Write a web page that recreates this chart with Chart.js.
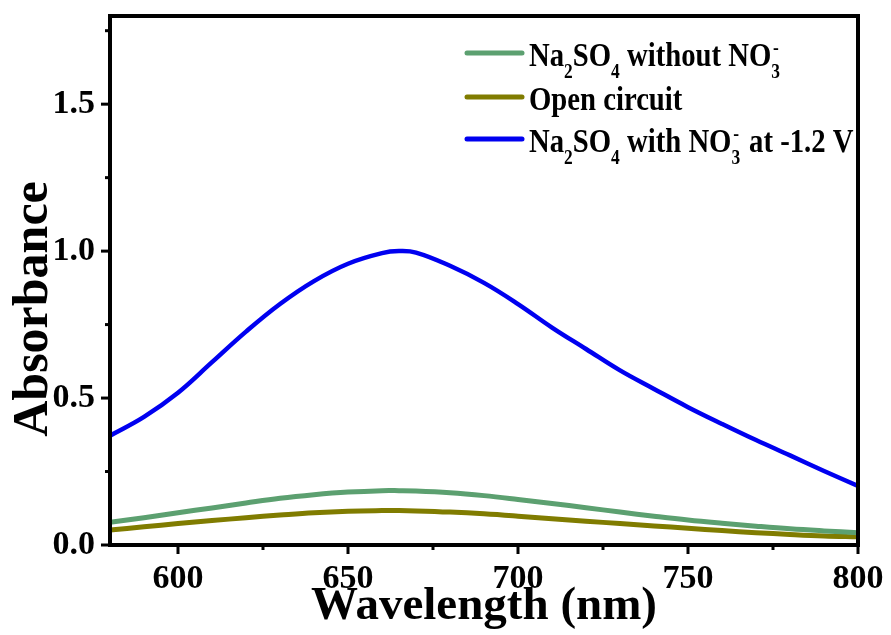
<!DOCTYPE html>
<html>
<head>
<meta charset="utf-8">
<script src="https://cdn.jsdelivr.net/npm/chart.js@4.4.1/dist/chart.umd.min.js"></script>
<style>
  html, body { margin: 0; padding: 0; background: #fff; }
  #wrap { width: 891px; height: 635px; }
</style>
</head>
<body>
<div id="wrap"><canvas id="myChart" width="891" height="635"></canvas></div>
<script>
// wavelength (nm)
const wavelengths = [580, 590, 600, 610, 620, 630, 640, 650, 660, 665, 670, 680, 690, 700, 710, 720, 730, 740, 750, 760, 770, 780, 790, 800];
// Na2SO4 without NO3-
const noNitrate = [0.077, 0.093, 0.110, 0.126, 0.143, 0.159, 0.171, 0.180, 0.185, 0.185, 0.184, 0.178, 0.168, 0.155, 0.141, 0.127, 0.112, 0.098, 0.085, 0.074, 0.064, 0.055, 0.048, 0.042];
// open circuit
const openCircuit = [0.051, 0.062, 0.073, 0.083, 0.093, 0.102, 0.110, 0.115, 0.117, 0.117, 0.116, 0.112, 0.106, 0.098, 0.089, 0.081, 0.073, 0.065, 0.057, 0.049, 0.042, 0.036, 0.031, 0.028];
// Na2SO4 with NO3- at -1.2 V
const withNitrate = [0.372, 0.436, 0.518, 0.622, 0.726, 0.820, 0.898, 0.957, 0.993, 1.000, 0.995, 0.950, 0.892, 0.820, 0.740, 0.667, 0.594, 0.531, 0.469, 0.412, 0.357, 0.305, 0.252, 0.201];

const xMajor = [600, 650, 700, 750, 800];
const xMinor = [625, 675, 725, 775];
const yMajor = [0, 0.5, 1.0, 1.5];
const yMinor = [0.25, 0.75, 1.25, 1.75];

const colGreen = 'rgb(92,160,112)';
const colOlive = 'rgb(128,124,0)';
const colBlue = 'rgb(0,0,240)';

const serif = '"Liberation Serif", "Times New Roman", serif';

// legend entries, pieces: [text, kind] kind: n = normal, sub, subsup = [sub, sup]
const legendRows = [
    { color: colGreen, parts: [['Na', 'n'], ['2', 'sub'], ['SO', 'n'], ['4', 'sub'], [' without NO', 'n'], [['3', '-'], 'subsup']] },
    { color: colOlive, parts: [['Open circuit', 'n']] },
    { color: colBlue, parts: [['Na', 'n'], ['2', 'sub'], ['SO', 'n'], ['4', 'sub'], [' with NO', 'n'], [['3', '-'], 'subsup'], [' at -1.2 V', 'n']] }
];

function pts(ys) {
    return wavelengths.map((x, i) => ({ x: x, y: ys[i] }));
}

function isMajor(list, v) {
    return list.some(m => Math.abs(m - v) < 1e-6);
}

function noPad(s) {
    s.paddingTop = 0;
    s.paddingBottom = 0;
    s.paddingLeft = 0;
    s.paddingRight = 0;
}

const decorPlugin = {
    id: 'decor',
    afterDraw(chart) {
        const ctx = chart.ctx;
        const a = chart.chartArea;
        const xs = chart.scales.x;
        const ys = chart.scales.y;
        ctx.save();
        ctx.strokeStyle = '#000';
        ctx.lineWidth = 4;
        ctx.strokeRect(a.left, a.top, a.right - a.left, a.bottom - a.top);

        // ticks outside
        ctx.lineWidth = 3;
        xs.ticks.forEach(t => {
            const px = xs.getPixelForValue(t.value);
            const len = isMajor(xMajor, t.value) ? 9 : 5;
            ctx.beginPath();
            ctx.moveTo(px, a.bottom);
            ctx.lineTo(px, a.bottom + len);
            ctx.stroke();
        });
        ys.ticks.forEach(t => {
            const py = ys.getPixelForValue(t.value);
            const len = isMajor(yMajor, t.value) ? 9 : 5;
            ctx.beginPath();
            ctx.moveTo(a.left, py);
            ctx.lineTo(a.left - len, py);
            ctx.stroke();
        });

        // y title
        ctx.fillStyle = '#000';
        ctx.font = 'bold 50px ' + serif;
        ctx.textAlign = 'center';
        ctx.textBaseline = 'middle';
        ctx.translate(34, 309);
        ctx.rotate(-Math.PI / 2);
        ctx.fillText('Absorbance', 0, 0);
        ctx.restore();

        // legend
        ctx.save();
        ctx.textBaseline = 'alphabetic';
        ctx.textAlign = 'left';
        ctx.fillStyle = '#000';
        const rowY = [53, 97, 139];
        const sx = 0.87;
        legendRows.forEach((row, i) => {
            const y = rowY[i];
            ctx.strokeStyle = row.color;
            ctx.lineWidth = 5;
            ctx.lineCap = 'round';
            ctx.beginPath();
            ctx.moveTo(467, y);
            ctx.lineTo(522, y);
            ctx.stroke();
            let x = 529;
            const base = y + 12.5;
            row.parts.forEach(p => {
                const [txt, kind] = p;
                ctx.save();
                ctx.translate(x, base);
                ctx.scale(sx, 1);
                if (kind === 'n') {
                    ctx.font = 'bold 33px ' + serif;
                    ctx.fillText(txt, 0, 0);
                    x += ctx.measureText(txt).width * sx;
                } else if (kind === 'sub') {
                    ctx.font = 'bold 20px ' + serif;
                    ctx.fillText(txt, 0, 12);
                    x += ctx.measureText(txt).width * sx;
                } else {
                    ctx.font = 'bold 20px ' + serif;
                    ctx.fillText(txt[0], 0, 12);
                    const w1 = ctx.measureText(txt[0]).width;
                    ctx.fillText(txt[1], 2, -12);
                    const w2 = ctx.measureText(txt[1]).width;
                    x += (Math.max(w1, w2 + 2) + 2) * sx;
                }
                ctx.restore();
            });
        });
        ctx.restore();
    }
};

const ctx = document.getElementById('myChart').getContext('2d');
new Chart(ctx, {
    type: 'line',
    data: {
        datasets: [
            { label: 'Na2SO4 without NO3-', data: pts(noNitrate), borderColor: colGreen, borderWidth: 5 },
            { label: 'Open circuit', data: pts(openCircuit), borderColor: colOlive, borderWidth: 5 },
            { label: 'Na2SO4 with NO3- at -1.2 V', data: pts(withNitrate), borderColor: colBlue, borderWidth: 4.5 }
        ]
    },
    options: {
        responsive: false,
        animation: false,
        elements: {
            point: { radius: 0 },
            line: { tension: 0.4, fill: false }
        },
        layout: { padding: { left: 0, top: 16, right: 33, bottom: 0 } },
        plugins: {
            legend: { display: false },
            tooltip: { enabled: false }
        },
        scales: {
            x: {
                type: 'linear',
                min: 580,
                max: 800,
                grid: { display: false, drawTicks: false },
                border: { display: false },
                afterBuildTicks: s => {
                    s.ticks = xMajor.concat(xMinor).sort((p, q) => p - q).map(v => ({ value: v }));
                },
                ticks: {
                    padding: 14,
                    color: '#000',
                    font: { family: serif, size: 34, weight: 'bold' },
                    maxRotation: 0,
                    autoSkip: false,
                    callback: v => isMajor(xMajor, v) ? String(v) : ''
                },
                title: {
                    display: true,
                    text: 'Wavelength (nm)',
                    color: '#000',
                    font: { family: serif, size: 47, weight: 'bold' },
                    padding: { top: -7, bottom: 0 }
                },
                afterFit: s => { s.height = 90; noPad(s); }
            },
            y: {
                min: 0,
                max: 1.8,
                grid: { display: false, drawTicks: false },
                border: { display: false },
                afterBuildTicks: s => {
                    s.ticks = yMajor.concat(yMinor).sort((p, q) => p - q).map(v => ({ value: v }));
                },
                ticks: {
                    padding: 15,
                    color: '#000',
                    font: { family: serif, size: 34, weight: 'bold' },
                    autoSkip: false,
                    callback: v => isMajor(yMajor, v) ? Number(v).toFixed(1) : ''
                },
                afterFit: s => { s.width = 110; noPad(s); }
            }
        }
    },
    plugins: [decorPlugin]
});
</script>
</body>
</html>
